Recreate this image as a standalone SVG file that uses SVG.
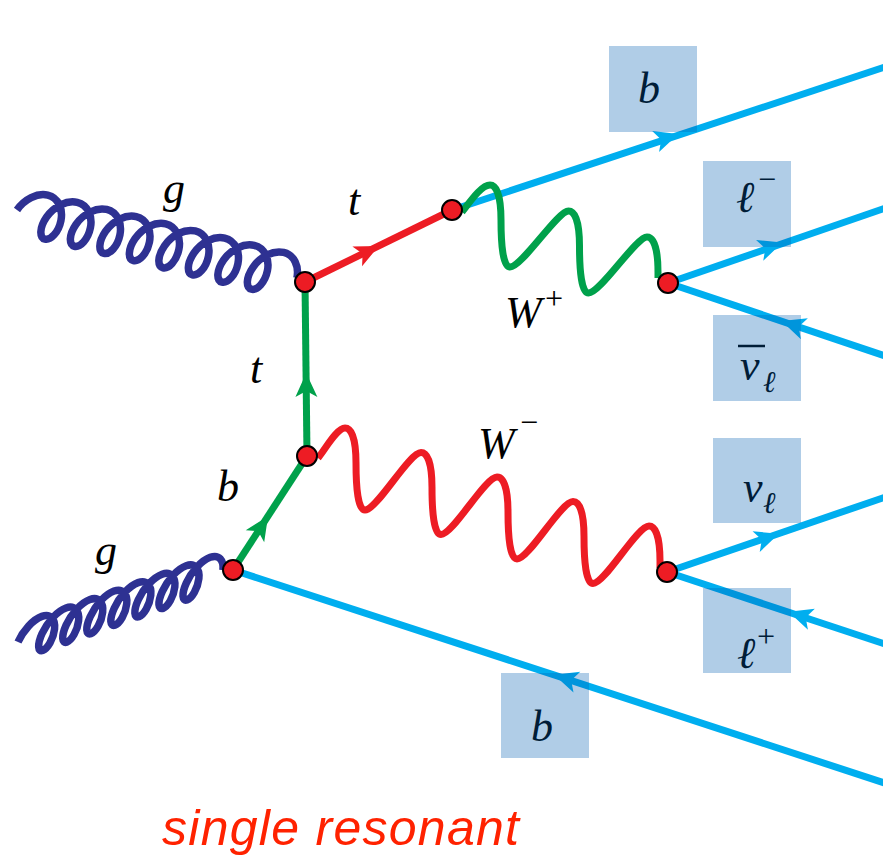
<svg xmlns="http://www.w3.org/2000/svg" xmlns:xlink="http://www.w3.org/1999/xlink" width="883" height="857" viewBox="0 0 883 857">
<style>
.lab{font-family:"Liberation Serif","Times New Roman",serif;font-style:italic;font-size:44px;fill:#000}
.sup{font-family:"Liberation Serif","Times New Roman",serif;font-style:italic;font-size:32px;fill:#000}
.sub{font-family:"Liberation Serif","Times New Roman",serif;font-style:italic;font-size:30px;fill:#000}
.cyan{stroke:#00aeef;stroke-width:7;fill:none}
.green{stroke:#00a14b;stroke-width:7;fill:none}
.red{stroke:#ed1c24;stroke-width:7;fill:none}
.glu{stroke:#2e3192;stroke-width:7.5;fill:none;stroke-linecap:butt}
.box{fill:#005eb1;fill-opacity:0.31}
.dot{fill:#ed1c24;stroke:#000;stroke-width:2}
</style>
<defs>
<path id="arr" d="M12,0 L-12,-11 L-6,0 L-12,11 Z"/>
</defs>
<rect width="883" height="857" fill="#fff"/>
<g id="connectors">
  <line class="cyan" x1="452" y1="210" x2="900" y2="62"/>
  <line class="cyan" x1="668" y1="283" x2="900" y2="203"/>
  <line class="cyan" x1="668" y1="283" x2="900" y2="361"/>
  <line class="cyan" x1="667" y1="572" x2="900" y2="492"/>
  <line class="cyan" x1="667" y1="572" x2="900" y2="649"/>
  <line class="cyan" x1="233" y1="570" x2="900" y2="788"/>
  <line class="red" x1="305" y1="282" x2="452" y2="210"/>
  <line class="green" x1="307" y1="456" x2="305" y2="282"/>
  <line class="green" x1="233" y1="570" x2="307" y2="456"/>
  <path class="glu" vector-effect="non-scaling-stroke" transform="matrix(0.972 0.236 -0.399 0.917 17 210)" d="M0,0 c2.529,-12.151 11.773,-22 22.587,-22 c10.814,0 20.058,9.849 22.587,22
  c2.529,12.151 -1.657,22 -7.413,22 c-5.756,0 -9.942,-9.849 -7.413,-22 c2.529,-12.151 11.773,-22 22.587,-22 c10.814,0 20.058,9.849 22.587,22
  c2.529,12.151 -1.657,22 -7.413,22 c-5.756,0 -9.942,-9.849 -7.413,-22 c2.529,-12.151 11.773,-22 22.587,-22 c10.814,0 20.058,9.849 22.587,22
  c2.529,12.151 -1.657,22 -7.413,22 c-5.756,0 -9.942,-9.849 -7.413,-22 c2.529,-12.151 11.773,-22 22.587,-22 c10.814,0 20.058,9.849 22.587,22
  c2.529,12.151 -1.657,22 -7.413,22 c-5.756,0 -9.942,-9.849 -7.413,-22 c2.529,-12.151 11.773,-22 22.587,-22 c10.814,0 20.058,9.849 22.587,22
  c2.529,12.151 -1.657,22 -7.413,22 c-5.756,0 -9.942,-9.849 -7.413,-22 c2.529,-12.151 11.773,-22 22.587,-22 c10.814,0 20.058,9.849 22.587,22
  c2.529,12.151 -1.657,22 -7.413,22 c-5.756,0 -9.942,-9.849 -7.413,-22 c2.529,-12.151 11.773,-22 22.587,-22 c10.814,0 20.058,9.849 22.587,22
  c2.529,12.151 -1.657,22 -7.413,22 c-5.756,0 -9.942,-9.849 -7.413,-22 c2.529,-12.151 11.773,-22 22.587,-22 c10.814,0 20.058,9.849 22.587,22
  c2.529,12.151 -1.657,22 -7.413,22 c-5.756,0 -9.942,-9.849 -7.413,-22 c2.529,-12.151 11.773,-22 22.587,-22 c10.814,0 20.058,9.849 22.587,22"/>
  <path class="glu" vector-effect="non-scaling-stroke" transform="matrix(0.943 -0.331 -0.28 0.96 18 642)" d="M0,0 c2.126,-11.046 10.071,-20 19.377,-20 c9.306,0 17.251,8.954 19.377,20
  c2.126,11.046 -1.569,20 -6.623,20 c-5.054,0 -8.749,-8.954 -6.623,-20 c2.126,-11.046 10.071,-20 19.377,-20 c9.306,0 17.251,8.954 19.377,20
  c2.126,11.046 -1.569,20 -6.623,20 c-5.054,0 -8.749,-8.954 -6.623,-20 c2.126,-11.046 10.071,-20 19.377,-20 c9.306,0 17.251,8.954 19.377,20
  c2.126,11.046 -1.569,20 -6.623,20 c-5.054,0 -8.749,-8.954 -6.623,-20 c2.126,-11.046 10.071,-20 19.377,-20 c9.306,0 17.251,8.954 19.377,20
  c2.126,11.046 -1.569,20 -6.623,20 c-5.054,0 -8.749,-8.954 -6.623,-20 c2.126,-11.046 10.071,-20 19.377,-20 c9.306,0 17.251,8.954 19.377,20
  c2.126,11.046 -1.569,20 -6.623,20 c-5.054,0 -8.749,-8.954 -6.623,-20 c2.126,-11.046 10.071,-20 19.377,-20 c9.306,0 17.251,8.954 19.377,20
  c2.126,11.046 -1.569,20 -6.623,20 c-5.054,0 -8.749,-8.954 -6.623,-20 c2.126,-11.046 10.071,-20 19.377,-20 c9.306,0 17.251,8.954 19.377,20
  c2.126,11.046 -1.569,20 -6.623,20 c-5.054,0 -8.749,-8.954 -6.623,-20 c2.126,-11.046 10.071,-20 19.377,-20 c9.306,0 17.251,8.954 19.377,20"/>
  <path class="green" d="M462,212 c10,-13 20,-27 28,-27
  c6,0 11,10 11,35 c0,25 2,47 9,47 c12,0 47.5,-56 58.5,-56
  c6,0 11,10 11,35 c0,25 2,47 9,47 c12,0 47.5,-56 58.5,-56
  c6,0 11,10 11,35 l0,6"/>
  <path class="red" d="M318,458 c8,-10 19,-30 27,-30
  c6,0 11,10 11,35 c0,25 2,47 9,47 c12,0 44,-57.5 56,-57.5
  c6,0 11,10 11,35 c0,25 2,47 9,47 c12,0 44,-57.5 56,-57.5
  c6,0 11,10 11,35 c0,25 2,47 9,47 c12,0 44,-57.5 56,-57.5
  c6,0 11,10 11,35 c0,25 2,47 9,47 c12,0 44,-57.5 56,-57.5
  c6,0 11,10 11,35 l0,7"/>
  <g fill="#00aeef">
    <use xlink:href="#arr" transform="translate(667,137.8) rotate(-18.2)"/>
    <use xlink:href="#arr" transform="translate(771,246.5) rotate(-19)"/>
    <use xlink:href="#arr" transform="translate(793,324.9) rotate(198.5)"/>
    <use xlink:href="#arr" transform="translate(767.5,537.7) rotate(-19)"/>
    <use xlink:href="#arr" transform="translate(800,615.5) rotate(198.3)"/>
    <use xlink:href="#arr" transform="translate(565.5,678.4) rotate(198.1)"/>
  </g>
  <use xlink:href="#arr" fill="#ed1c24" transform="translate(368,251.2) rotate(-26.1)"/>
  <use xlink:href="#arr" fill="#00a14b" transform="translate(306.3,385) rotate(-90.5)"/>
  <use xlink:href="#arr" fill="#00a14b" transform="translate(261.5,526.2) rotate(-57)"/>
</g>
<g id="v1"><circle class="dot" cx="305" cy="282" r="10"/></g>
<g id="v2"><circle class="dot" cx="452" cy="210" r="10"/></g>
<g id="v3"><circle class="dot" cx="668" cy="283" r="10"/></g>
<g id="v4"><circle class="dot" cx="307" cy="456" r="10"/></g>
<g id="v5"><circle class="dot" cx="233" cy="570" r="10"/></g>
<g id="v6"><circle class="dot" cx="667" cy="572" r="10"/></g>
<g id="labels">
  <text class="lab" x="163" y="203">g</text>
  <text class="lab" x="95" y="565">g</text>
  <text class="lab" x="348" y="215">t</text>
  <text class="lab" x="250" y="383">t</text>
  <text class="lab" x="217" y="501">b</text>
  <text class="lab" x="505" y="327">W</text><text class="sup" x="543" y="309">+</text>
  <text class="lab" x="478" y="458">W</text><text class="sup" x="518" y="433">−</text>
</g>
<g id="out-b">
  <text class="lab" x="638" y="103">b</text>
  <rect class="box" x="609" y="46" width="88" height="86"/>
</g>
<g id="out-lminus">
  <text class="lab" x="736" y="212">ℓ</text><text class="sup" x="756" y="190">−</text>
  <rect class="box" x="703" y="161" width="88" height="86"/>
</g>
<g id="out-nubar">
  <text class="lab" x="740" y="380">ν</text>
  <line x1="738" y1="346" x2="765" y2="346" stroke="#000" stroke-width="2.5"/>
  <text class="sub" x="763" y="392">ℓ</text>
  <rect class="box" x="713" y="315" width="88" height="86"/>
</g>
<g id="out-nu">
  <text class="lab" x="743" y="502">ν</text><text class="sub" x="763" y="513">ℓ</text>
  <rect class="box" x="713" y="438" width="88" height="85"/>
</g>
<g id="out-lplus">
  <text class="lab" x="737" y="668">ℓ</text><text class="sup" x="755" y="647">+</text>
  <rect class="box" x="703" y="588" width="88" height="85"/>
</g>
<g id="out-bbar">
  <text class="lab" x="531" y="741">b</text>
  <rect class="box" x="501" y="673" width="88" height="85"/>
</g>
<text x="162" y="845" font-family="Liberation Sans, Arial, sans-serif" font-style="italic" font-size="50" fill="#ff2200" textLength="357">single resonant</text>
</svg>
